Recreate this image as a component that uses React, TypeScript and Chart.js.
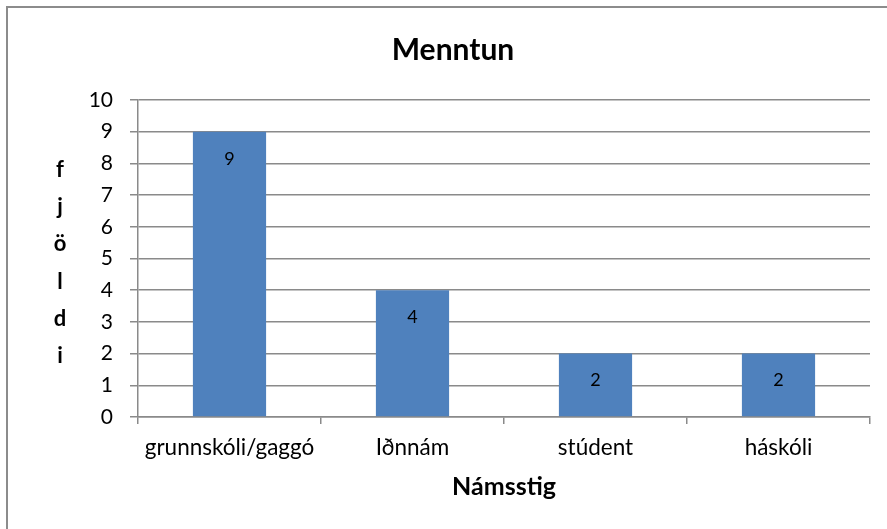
import React, { useEffect, useRef } from "react";
import { Chart, registerables } from "chart.js";

Chart.register(...registerables);

const categories = ["grunnskóli/gaggó", "Iðnnám", "stúdent", "háskóli"];
const values = [9, 4, 2, 2];
const chartTitle = "Menntun";
const xTitle = "Námsstig";
const yTitleLetters = ["f", "j", "ö", "l", "d", "i"];
const yMin = 0;
const yMax = 10;
const yStep = 1;

const FONT = "Lato, 'Open Sans', sans-serif";
const GRID = "#8a8a8a";
const BAR = "#4f81bd";

const labelPlugin = {
  id: "barLabels",
  afterDatasetsDraw(chart: any) {
    const ctx = chart.ctx;
    const meta = chart.getDatasetMeta(0);
    ctx.save();
    ctx.fillStyle = "#000";
    ctx.font = `18px ${FONT}`;
    ctx.textAlign = "center";
    ctx.textBaseline = "middle";
    meta.data.forEach((el: any, i: number) => {
      ctx.fillText(String(values[i]), el.x, el.y + 27);
    });
    ctx.restore();
  },
};

const yTitlePlugin = {
  id: "yTitleLetters",
  afterDraw(chart: any) {
    const ctx = chart.ctx;
    ctx.save();
    ctx.fillStyle = "#000";
    ctx.font = `bold 22px ${FONT}`;
    ctx.textAlign = "center";
    ctx.textBaseline = "alphabetic";
    yTitleLetters.forEach((ch, i) => {
      ctx.fillText(ch, 60, 177 + i * 37.2);
    });
    ctx.restore();
  },
};

export default function App() {
  const ref = useRef<HTMLCanvasElement | null>(null);

  useEffect(() => {
    if (!ref.current) return;
    const chart = new Chart(ref.current, {
      type: "bar",
      data: {
        labels: categories,
        datasets: [
          {
            data: values,
            backgroundColor: BAR,
            borderWidth: 0,
            categoryPercentage: 0.8,
            barPercentage: 0.5,
          },
        ],
      },
      options: {
        responsive: false,
        animation: false,
        layout: { padding: { left: 36, right: 17, top: 0, bottom: 0 } },
        plugins: {
          legend: { display: false },
          tooltip: { enabled: false },
          title: {
            display: true,
            text: chartTitle,
            color: "#000",
            font: { family: FONT, size: 30, weight: "bold", lineHeight: 1.2 },
            padding: { top: 32, bottom: 32 },
          },
        },
        scales: {
          x: {
            afterFit(scale: any) {
              scale.height = 112;
            },
            grid: {
              display: true,
              drawOnChartArea: false,
              drawTicks: true,
              tickLength: 7,
              color: GRID,
              lineWidth: 1.5,
              offset: true,
            },
            border: { display: true, color: GRID, width: 1.5 },
            ticks: {
              color: "#000",
              font: { family: FONT, size: 22.5 },
              padding: 10,
              maxRotation: 0,
            },
            title: {
              display: true,
              text: xTitle,
              color: "#000",
              font: { family: FONT, size: 25, weight: "bold", lineHeight: 1.2 },
              padding: { top: 0, bottom: 27 },
            },
          },
          y: {
            min: yMin,
            max: yMax,
            afterFit(scale: any) {
              scale.width = 102;
            },
            grid: {
              color: GRID,
              lineWidth: 1.5,
              tickLength: 8,
              drawTicks: true,
            },
            border: { display: true, color: GRID, width: 1.5 },
            ticks: {
              stepSize: yStep,
              color: "#000",
              font: { family: FONT, size: 21 },
              padding: 17,
            },
          },
        },
      },
      plugins: [labelPlugin, yTitlePlugin],
    });
    return () => chart.destroy();
  }, []);

  return (
    <div
      style={{
        position: "fixed",
        left: 0,
        top: 0,
        width: 887,
        height: 529,
        background: "#fff",
      }}
    >
      <div
        style={{
          position: "absolute",
          left: 6,
          top: 6,
          width: 1000,
          height: 1000,
          borderTop: "2px solid #8c8c8c",
          borderLeft: "2px solid #8c8c8c",
        }}
      />
      <canvas
        ref={ref}
        width={887}
        height={529}
        style={{ position: "absolute", left: 0, top: 0 }}
      />
    </div>
  );
}
